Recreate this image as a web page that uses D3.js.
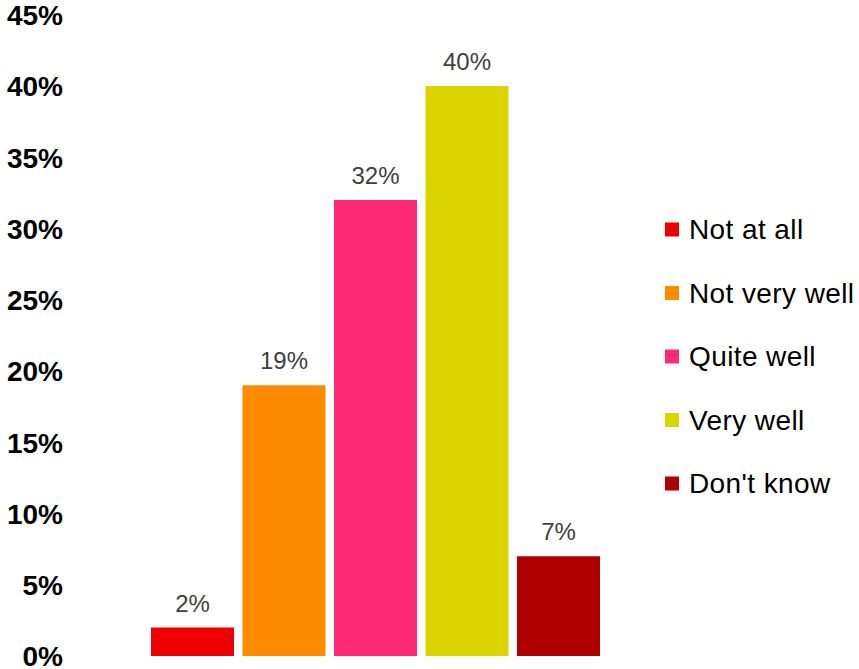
<!DOCTYPE html>
<html>
<head>
<meta charset="utf-8">
<script src="https://cdn.jsdelivr.net/npm/d3@7"></script>
<style>
  html, body { margin: 0; padding: 0; background: #fff; }
  svg { display: block; font-family: "Liberation Sans", Arial, sans-serif; }
</style>
</head>
<body>
<svg id="chart" width="859" height="669"></svg>
<script>
// Survey responses: share of respondents per answer
const categories = ["Not at all", "Not very well", "Quite well", "Very well", "Don't know"];
const values = [2, 19, 32, 40, 7];
const colors = ["#ee0000", "#ff8c00", "#ff2a76", "#dcd400", "#b00000"];
const yTicks = [0, 5, 10, 15, 20, 25, 30, 35, 40, 45];

const svg = d3.select("#chart");

const x = d3.scaleBand()
  .domain(categories)
  .range([151, 600])
  .paddingInner(0.093)
  .paddingOuter(0);

const y = d3.scaleLinear()
  .domain([0, 45])
  .range([656, 14.75]);

// Y axis: bold percentage labels, no line or ticks
const yAxis = d3.axisLeft(y)
  .tickValues(yTicks)
  .tickFormat(d => d + "%")
  .tickSize(0)
  .tickPadding(0);

const gy = svg.append("g")
  .attr("transform", "translate(63,0)")
  .call(yAxis);
gy.select(".domain").remove();
gy.selectAll("text")
  .attr("font-family", "'Liberation Sans', Arial, sans-serif")
  .attr("font-size", 28)
  .attr("font-weight", "bold")
  .attr("fill", "#000")
  .attr("dy", "0.35em");

// Bars
svg.append("g")
  .selectAll("rect")
  .data(values)
  .join("rect")
  .attr("x", (d, i) => x(categories[i]))
  .attr("y", d => y(d))
  .attr("width", x.bandwidth())
  .attr("height", d => y(0) - y(d))
  .attr("fill", (d, i) => colors[i]);

// Value labels above bars
svg.append("g")
  .selectAll("text")
  .data(values)
  .join("text")
  .attr("x", (d, i) => x(categories[i]) + x.bandwidth() / 2)
  .attr("y", d => y(d) - 16)
  .attr("text-anchor", "middle")
  .attr("font-size", 24)
  .attr("fill", "#404040")
  .text(d => d + "%");

// Legend
const legend = svg.append("g")
  .selectAll("g")
  .data(categories)
  .join("g")
  .attr("transform", (d, i) => `translate(665,${229.5 + i * 63.5})`);

legend.append("rect")
  .attr("x", 0)
  .attr("y", -7)
  .attr("width", 14)
  .attr("height", 14)
  .attr("fill", (d, i) => colors[i]);

legend.append("text")
  .attr("x", 24)
  .attr("y", 0)
  .attr("dy", "0.35em")
  .attr("font-size", 28)
  .attr("letter-spacing", "0.4px")
  .attr("fill", "#000")
  .text(d => d);
</script>
</body>
</html>
